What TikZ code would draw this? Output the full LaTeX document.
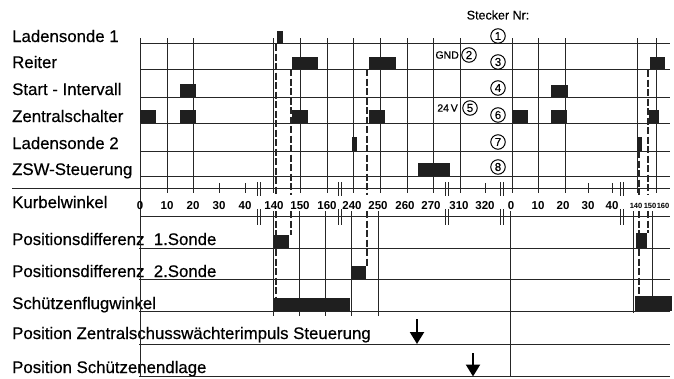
\documentclass[tikz,border=0pt]{standalone}
\usepackage{fontspec}
\setmainfont{Liberation Sans}
\newfontfamily\medfont[FakeBold=0.5]{Liberation Sans}
\usetikzlibrary{arrows.meta}
\begin{document}
\begin{tikzpicture}[x=1pt,y=-1pt,
  grid/.style={line width=1pt, draw=black!85},
  dashln/.style={line width=1.1pt, draw=black!85, dash pattern=on 7pt off 2.5pt},
  pulse/.style={fill=black!88, draw=none},
  rowlabel/.style={anchor=base west, inner sep=0, font=\medfont\fontsize{16.8}{18}\selectfont},
  axnum/.style={anchor=base, inner sep=0, font=\bfseries\fontsize{11.5}{12}\selectfont},
  axsmall/.style={anchor=base, inner sep=0, font=\bfseries\fontsize{7.5}{8}\selectfont},
  plug/.style={circle, draw, line width=1pt, inner sep=0, minimum size=14.5pt, font=\medfont\fontsize{11.5}{11.5}\selectfont},
  smalltxt/.style={inner sep=0, font=\medfont\fontsize{10.5}{11}\selectfont},
  marker/.style={line width=2.2pt, -{Triangle[width=14pt,length=12pt]}}
]
\useasboundingbox (0,0) rectangle (674,378);
\fill[white] (0,0) rectangle (674,378);

% ---------- row labels ----------
\node[rowlabel] (lab1) at (12,42) {Ladensonde 1};
\node[rowlabel] (lab2) at (12,68) {Reiter};
\node[rowlabel] (lab3) at (12,95) {Start - Intervall};
\node[rowlabel] (lab4) at (12,122) {Zentralschalter};
\node[rowlabel] (lab5) at (12,149) {Ladensonde 2};
\node[rowlabel] (lab6) at (12,175) {ZSW-Steuerung};
\node[rowlabel] (lab7) at (12,208) {Kurbelwinkel};
\node[rowlabel] (lab8) at (12,245) {Positionsdifferenz\ \ 1.Sonde};
\node[rowlabel] (lab9) at (12,277) {Positionsdifferenz\ \ 2.Sonde};
\node[rowlabel] (lab10) at (12,309) {Schützenflugwinkel};
\node[rowlabel] (lab11) at (12,339) {Position Zentralschusswächterimpuls Steuerung};
\node[rowlabel] (lab12) at (12,373) {Position Schützenendlage};

% ---------- horizontal lines ----------
\foreach \y in {43.5,69,97,123,151,176} \draw[grid] (140,\y) -- (670,\y);
\draw[grid] (12,188) -- (670,188);
\draw[grid] (140,216) -- (670,216);
\foreach \y in {248,279,311,344,376.5} \draw[grid] (139,\y) -- (670,\y);

% ---------- vertical lines, upper part ----------
\foreach \x in {140,167,193,273,300,327,353,380,407,433,460,512,538,565,637,656}
  \draw[grid] (\x,38) -- (\x,193);
\foreach \x in {219,245,485,588,612}
  \draw[grid] (\x,183) -- (\x,193);
% break marks
\foreach \x in {259,340,447,502,622} {
  \draw[grid] (\x-1.4,182) -- (\x-1.4,196) (\x+1.4,182) -- (\x+1.4,196);
  \draw[grid] (\x-1.4,209) -- (\x-1.4,225) (\x+1.4,209) -- (\x+1.4,225);
}

% ---------- vertical lines, lower part ----------
\draw[grid] (140,188) -- (140,377);
\foreach \x in {273,299,325,351,378} \draw[grid] (\x,211) -- (\x,316);
\draw[grid] (510,211) -- (510,377);
\draw[grid] (633,211) -- (633,313);
\draw[grid] (652,211) -- (652,311);

% ---------- dashed guide lines ----------
\draw[dashln] (276,44) -- (276,195) (276,211) -- (276,298);
\draw[dashln] (291,69) -- (291,195) (291,211) -- (291,235);
\draw[dashln] (367,69) -- (367,195) (367,211) -- (367,266);
\draw[dashln] (648,70) -- (648,195) (648,211) -- (648,233);
\draw[dashln] (639,151) -- (639,195) (639,211) -- (639,296);

% ---------- pulses, upper part ----------
\fill[pulse] (277,31) rectangle (283,43.5);
\fill[pulse] (292,57) rectangle (318,69);
\fill[pulse] (369,57) rectangle (396,69);
\fill[pulse] (650,57) rectangle (665,69);
\fill[pulse] (180,84) rectangle (196,97);
\fill[pulse] (551,85) rectangle (568,97);
\foreach \a/\b in {140/156,180/196,292/308,369/385,512/528,551/567,649/659}
  \fill[pulse] (\a,110) rectangle (\b,123);
\fill[pulse] (352,137) rectangle (357,151);
\fill[pulse] (637,137) rectangle (642,151);
\fill[pulse] (418,163) rectangle (450,176);

% ---------- pulses, lower part ----------
\fill[pulse] (274,235) rectangle (289,248);
\fill[pulse] (636,233) rectangle (647,248);
\fill[pulse] (351,266) rectangle (366,279);
\fill[pulse] (274,298) rectangle (350,311);
\fill[pulse] (635,296) rectangle (672,311);

% ---------- arrows ----------
\coordinate (a1s) at (417,319);
\coordinate (a1e) at (417,344);
\coordinate (a2s) at (473,353);
\coordinate (a2e) at (473,376.5);
\draw[marker] (a1s) -- (a1e);
\draw[marker] (a2s) -- (a2e);

% ---------- crank angle numbers ----------
\foreach \x/\t [count=\i] in {140/0,167/10,193/20,219/30,245/40,274/140,300/150,327/160,
  352/240,378/250,405/260,431/270,459/310,485/320,511/0,538/10,563/20,588/30,612/40}
  \node[axnum] (n\i) at (\x,209) {\t};
\node[axsmall] (n20) at (636,208) {140};
\node[axsmall] (n21) at (650,208) {150};
\node[axsmall] (n22) at (663,208) {160};

% ---------- plug numbers ----------
\node[inner sep=0, font=\medfont\fontsize{12.5}{13}\selectfont] (stecker) at (498,15) {Stecker Nr:};
\node[plug] (p1) at (498,36) {1};
\node[plug] (p3) at (498,62) {3};
\node[plug] (p4) at (498,88) {4};
\node[plug] (p6) at (498,115) {6};
\node[plug] (p7) at (498,142) {7};
\node[plug] (p8) at (498,167) {8};
\node[plug] (p2) at (469,55) {2};
\node[plug] (p5) at (470,108) {5};
\node[smalltxt, anchor=east] (gnd) at (459,55) {GND};
\node[smalltxt, anchor=east] (v24) at (458,108) {24\,V};
\end{tikzpicture}
\end{document}
